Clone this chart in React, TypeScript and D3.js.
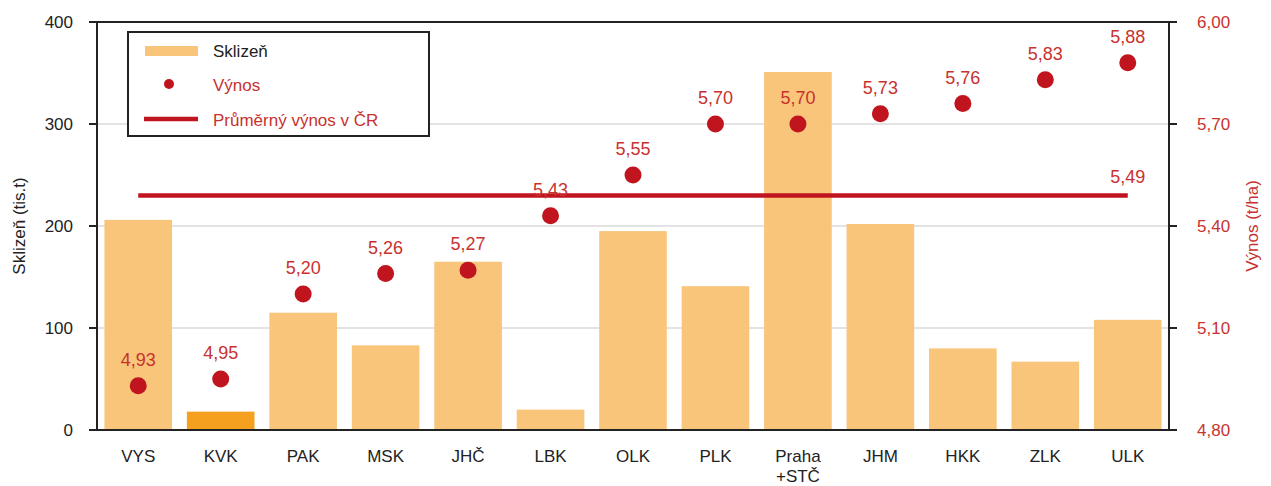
import React from "react";
import * as d3 from "d3";

const categories = ["VYS", "KVK", "PAK", "MSK", "JHČ", "LBK", "OLK", "PLK", "Praha\n+STČ", "JHM", "HKK", "ZLK", "ULK"];
const sklizen = [206, 18, 115, 83, 165, 20, 195, 141, 351, 202, 80, 67, 108];
const vynos = [4.93, 4.95, 5.2, 5.26, 5.27, 5.43, 5.55, 5.7, 5.7, 5.73, 5.76, 5.83, 5.88];
const prumer = 5.49;
const leftTicks = [0, 100, 200, 300, 400];
const rightTicks = [4.8, 5.1, 5.4, 5.7, 6.0];
const highlight = "KVK";

const W = 1271, H = 486;
const L = 97, R = 1169, T = 22, B = 430;
const FONT = "Liberation Sans, Arial, sans-serif";
const RED = "#C0141E";
const LABEL_RED = "#C8322E";

export default function App() {
  const x = d3.scaleBand<string>().domain(categories).range([L, R]).paddingInner(0.18).paddingOuter(0.09);
  const yL = d3.scaleLinear().domain([0, 400]).range([B, T]);
  const yR = d3.scaleLinear().domain([4.8, 6.0]).range([B, T]);
  const fmt = (v: number) => d3.format(".2f")(v).replace(".", ",");
  const cx = (c: string) => (x(c) as number) + x.bandwidth() / 2;
  const first = categories[0], last = categories[categories.length - 1];

  return (
    <svg width={W} height={H} style={{ position: "absolute", left: 0, top: 0, fontFamily: FONT }}>
      <rect width={W} height={H} fill="#fff" />
      {leftTicks.filter(t => t > 0 && t < 400).map(t => (
        <line key={t} x1={L} x2={R} y1={yL(t)} y2={yL(t)} stroke="#c8c8c8" strokeWidth={1.2} />
      ))}
      {categories.map((c, i) => (
        <rect key={c} x={x(c)} y={yL(sklizen[i])} width={x.bandwidth()} height={B - yL(sklizen[i])}
          fill={c === highlight ? "#F5A11F" : "#F9C57A"} />
      ))}
      <line x1={cx(first)} x2={cx(last)} y1={yR(prumer)} y2={yR(prumer)} stroke={RED} strokeWidth={4.5} />
      <text x={cx(last)} y={yR(prumer) - 12} textAnchor="middle" fontSize={18} fill={LABEL_RED}>{fmt(prumer)}</text>
      {categories.map((c, i) => (
        <g key={c}>
          <circle cx={cx(c)} cy={yR(vynos[i])} r={8.5} fill={RED} />
          <text x={cx(c)} y={yR(vynos[i]) - 20} textAnchor="middle" fontSize={18} fill={LABEL_RED}>{fmt(vynos[i])}</text>
        </g>
      ))}
      {/* frame */}
      <line x1={L} x2={R} y1={T} y2={T} stroke="#222" strokeWidth={2} />
      <line x1={L} x2={L} y1={T} y2={B} stroke="#222" strokeWidth={2} />
      <line x1={R} x2={R} y1={T} y2={B} stroke="#222" strokeWidth={2} />
      <line x1={L - 8} x2={R + 8} y1={B} y2={B} stroke="#222" strokeWidth={2} />
      {leftTicks.map(t => (
        <g key={t}>
          <line x1={L - 8} x2={L} y1={yL(t)} y2={yL(t)} stroke="#222" strokeWidth={2} />
          <text x={L - 24} y={yL(t)} dy="0.35em" textAnchor="end" fontSize={17} fill="#222">{t}</text>
        </g>
      ))}
      {rightTicks.map(t => (
        <g key={t}>
          <line x1={R} x2={R + 8} y1={yR(t)} y2={yR(t)} stroke="#222" strokeWidth={2} />
          <text x={R + 28} y={yR(t)} dy="0.35em" textAnchor="start" fontSize={17} fill={LABEL_RED}>{fmt(t)}</text>
        </g>
      ))}
      {categories.map(c => (
        <text key={c} x={cx(c)} y={462} textAnchor="middle" fontSize={17} fill="#222">
          {c.split("\n").map((s, j) => (
            <tspan key={j} x={cx(c)} dy={j === 0 ? 0 : 19.5}>{s}</tspan>
          ))}
        </text>
      ))}
      <text transform={`translate(25,${(T + B) / 2}) rotate(-90)`} textAnchor="middle" fontSize={17} fill="#222">Sklizeň (tis.t)</text>
      <text transform={`translate(1258,${(T + B) / 2}) rotate(-90)`} textAnchor="middle" fontSize={17} fill={LABEL_RED}>Výnos (t/ha)</text>
      {/* legend */}
      <g>
        <rect x={128} y={32} width={301} height={104} fill="#fff" stroke="#222" strokeWidth={2} />
        <rect x={145} y={46} width={53} height={10} fill="#F9C57A" />
        <text x={213} y={51} dy="0.35em" fontSize={17} fill="#222">Sklizeň</text>
        <circle cx={169} cy={84} r={5} fill={RED} />
        <text x={213} y={85} dy="0.35em" fontSize={17} fill={LABEL_RED}>Výnos</text>
        <line x1={144} x2={198} y1={119} y2={119} stroke={RED} strokeWidth={4.5} />
        <text x={213} y={120} dy="0.35em" fontSize={17} fill={LABEL_RED}>Průměrný výnos v ČR</text>
      </g>
    </svg>
  );
}
